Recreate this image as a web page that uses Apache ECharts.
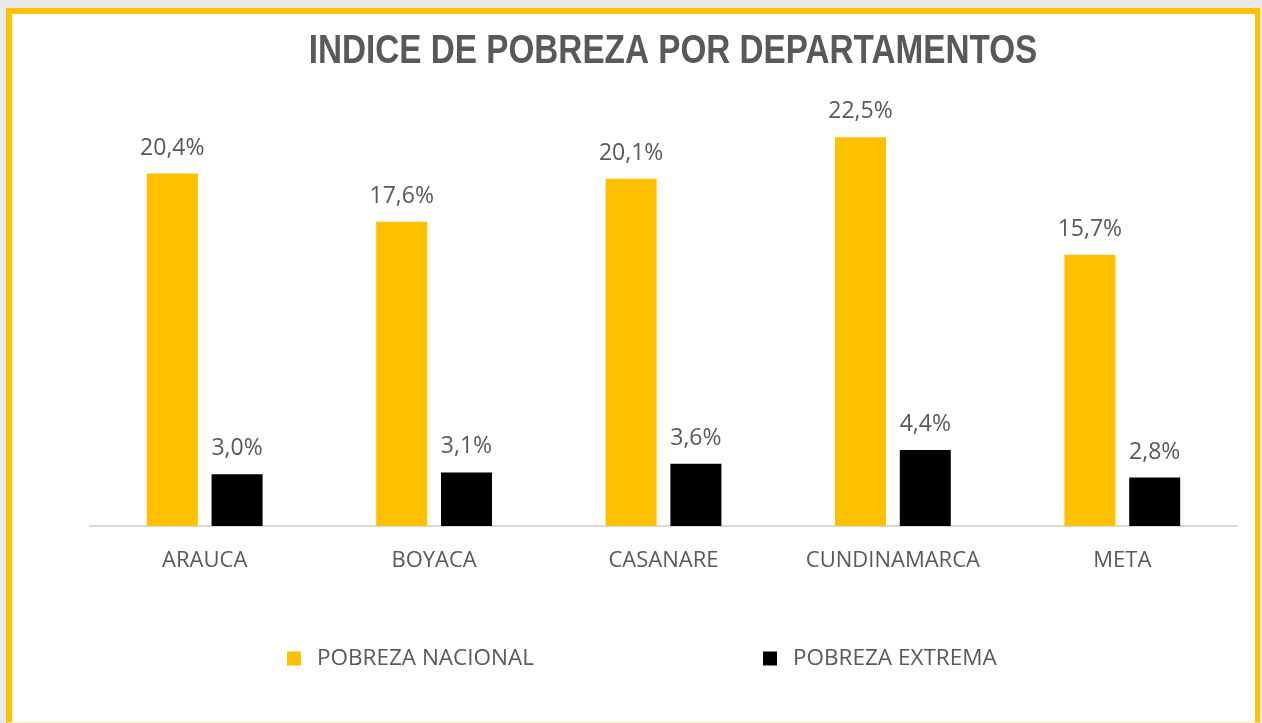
<!DOCTYPE html>
<html>
<head>
<meta charset="utf-8">
<script src="https://cdn.jsdelivr.net/npm/echarts@6/dist/echarts.min.js"></script>
<style>
  html, body { margin: 0; padding: 0; background: #e9e9e9; }
  #frame {
    position: absolute; left: 6px; top: 8px; width: 1254px; height: 715px;
    border-left: 6px solid #FFC000; border-top: 6px solid #FFC000; border-right: 5px solid #FFC000;
    border-bottom: 1px solid #ffefb8; background: #fff; box-sizing: border-box;
  }
  #main { position: absolute; left: 0; top: 0; width: 1262px; height: 723px; }
</style>
</head>
<body>
<div id="frame"></div>
<div id="main"></div>
<script>
var departamentos = ['ARAUCA', 'BOYACA', 'CASANARE', 'CUNDINAMARCA', 'META'];
var pobrezaNacional = [20.4, 17.6, 20.1, 22.5, 15.7];
var pobrezaExtrema = [3.0, 3.1, 3.6, 4.4, 2.8];

var myChart = echarts.init(document.getElementById('main'));
var gris = '#595959';
function pct(p) {
    return p.value.toFixed(1).replace('.', ',') + '%';
}
var legendText = { fontFamily: '"Open Sans", sans-serif', fontSize: 22.5, color: gris, padding: [0, 0, 0, 11] };
var option = {
    // titulo angosto (tipo Arial Narrow) con escala horizontal
    graphic: [{
        type: 'text',
        x: 673,
        y: 52,
        scaleX: 0.832,
        style: {
            text: 'INDICE DE POBREZA POR DEPARTAMENTOS',
            font: 'bold 40px "Liberation Sans", Arial, sans-serif',
            fill: gris,
            align: 'center',
            verticalAlign: 'middle'
        }
    }],
    legend: [
        {
            data: ['POBREZA NACIONAL'],
            left: 287, top: 647, padding: 0,
            itemWidth: 14, itemHeight: 14,
            icon: 'rect',
            textStyle: legendText
        },
        {
            data: ['POBREZA EXTREMA'],
            left: 763, top: 647, padding: 0,
            itemWidth: 14, itemHeight: 14,
            icon: 'rect',
            textStyle: legendText
        }
    ],
    grid: { left: 90, right: 25, top: 94, bottom: 197 },
    xAxis: {
        type: 'category',
        data: departamentos,
        axisLine: { lineStyle: { color: '#d9d9d9', width: 2 } },
        axisTick: { show: false },
        axisLabel: {
            margin: 24,
            fontFamily: '"Open Sans", sans-serif',
            fontSize: 22,
            color: gris
        }
    },
    yAxis: {
        type: 'value',
        min: 0,
        max: 25,
        show: false,
        splitLine: { show: false }
    },
    series: [
        {
            name: 'POBREZA NACIONAL',
            type: 'bar',
            barWidth: 51,
            barGap: '27%',
            itemStyle: { color: '#FFC000' },
            label: {
                show: true, position: 'top', distance: 14,
                formatter: pct,
                fontFamily: '"Open Sans", sans-serif', fontSize: 23, color: gris
            },
            data: pobrezaNacional
        },
        {
            name: 'POBREZA EXTREMA',
            type: 'bar',
            barWidth: 51,
            itemStyle: { color: '#000000' },
            label: {
                show: true, position: 'top', distance: 14,
                formatter: pct,
                fontFamily: '"Open Sans", sans-serif', fontSize: 23, color: gris
            },
            data: pobrezaExtrema
        }
    ]
};
myChart.setOption(option);
</script>
</body>
</html>
